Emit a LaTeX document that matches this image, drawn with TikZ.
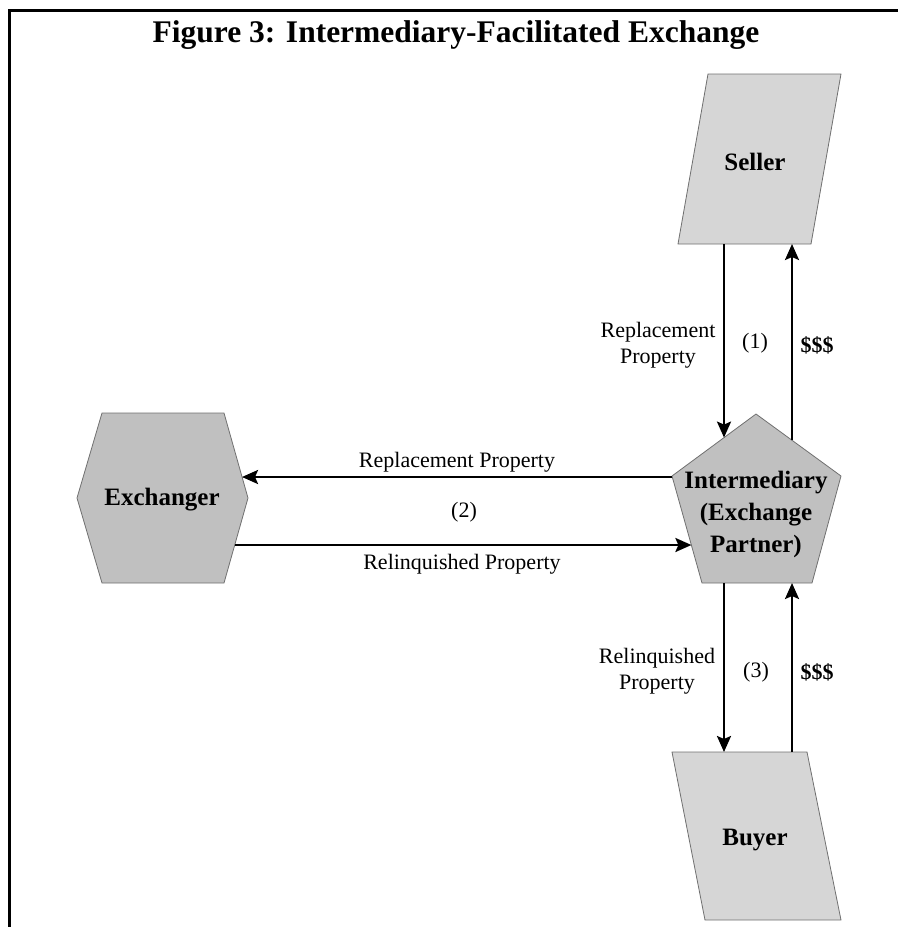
\documentclass[tikz,border=0pt]{standalone}
\usepackage{fontspec}
\setmainfont{Liberation Serif}
\usetikzlibrary{arrows.meta}
\definecolor{lightfill}{HTML}{D6D6D6}
\definecolor{darkfill}{HTML}{C0C0C0}
\definecolor{edgegray}{HTML}{707070}
\tikzset{
  flow/.style={line width=2.5pt, -{Stealth[length=16pt,width=14pt,inset=3pt]}},
  partyshape/.style={fill=lightfill, draw=edgegray, line width=0.8pt},
  hubshape/.style={fill=darkfill, draw=edgegray, line width=0.8pt},
  partytext/.style={inner sep=0pt, align=center, font=\fontsize{25}{32}\selectfont\bfseries},
  flowtext/.style={inner sep=0pt, align=center, font=\fontsize{22}{26}\selectfont},
  flowbold/.style={flowtext, font=\fontsize{22}{26}\selectfont\bfseries},
}
\begin{document}
\begin{tikzpicture}[x=1pt, y=-1pt]
\useasboundingbox (0,0) rectangle (898,927);

% outer frame (open to the right and bottom)
\draw[line width=3pt] (9.5,927) -- (9.5,10.5) -- (898,10.5);

% title
\node[inner sep=0pt, anchor=base, font=\fontsize{31.5}{36}\selectfont\bfseries] (title) at (456,42)
  {Figure 3: Intermediary-Facilitated Exchange};

% shapes
\draw[partyshape] (708,74) -- (841,74) -- (811,244) -- (678,244) -- cycle;   % seller
\draw[partyshape] (672,752) -- (807,752) -- (841,920) -- (705,920) -- cycle; % buyer
\draw[hubshape] (102,413) -- (224,413) -- (248,498) -- (224,583) -- (102,583) -- (77,498) -- cycle; % exchanger
\draw[hubshape] (756,414) -- (841,476) -- (812,583) -- (702,583) -- (672,476) -- cycle;             % intermediary

% shape labels
\node[partytext] (seller) at (755,162) {Seller};
\node[partytext] (buyer) at (755,840) {Buyer};
\node[partytext] (exch) at (162,500) {Exchanger};
\node[partytext] (inter) at (756,514) {Intermediary\\(Exchange\\Partner)};

% attachment points on the shape outlines
\coordinate (sellerOut) at (724,244);
\coordinate (sellerIn)  at (792,244);
\coordinate (interTopIn)  at (724,437.6);
\coordinate (interTopOut) at (792,440.3);
\coordinate (interLeftOut) at (672,477);
\coordinate (interLeftIn)  at (691.4,545);
\coordinate (interBotOut) at (724,583);
\coordinate (interBotIn)  at (792,583);
\coordinate (exchIn)  at (242,477);
\coordinate (exchOut) at (235,545);
\coordinate (buyerIn)  at (724,752);
\coordinate (buyerOut) at (792,752);

% flows
\draw[flow] (sellerOut) -- (interTopIn);
\draw[flow] (interTopOut) -- (sellerIn);
\draw[flow] (interLeftOut) -- (exchIn);
\draw[flow] (exchOut) -- (interLeftIn);
\draw[flow] (interBotOut) -- (buyerIn);
\draw[flow] (buyerOut) -- (interBotIn);

% flow labels
\node[flowtext] (l1a) at (658,345) {Replacement\\Property};
\node[flowtext] (l1b) at (755,343) {(1)};
\node[flowbold] (l1c) at (817,345) {\$\$\$};
\node[flowtext] (l2a) at (457,462) {Replacement Property};
\node[flowtext] (l2b) at (464,512) {(2)};
\node[flowtext] (l2c) at (462,564) {Relinquished Property};
\node[flowtext] (l3a) at (657,671) {Relinquished\\Property};
\node[flowtext] (l3b) at (756,672) {(3)};
\node[flowbold] (l3c) at (817,672) {\$\$\$};
\end{tikzpicture}
\end{document}
